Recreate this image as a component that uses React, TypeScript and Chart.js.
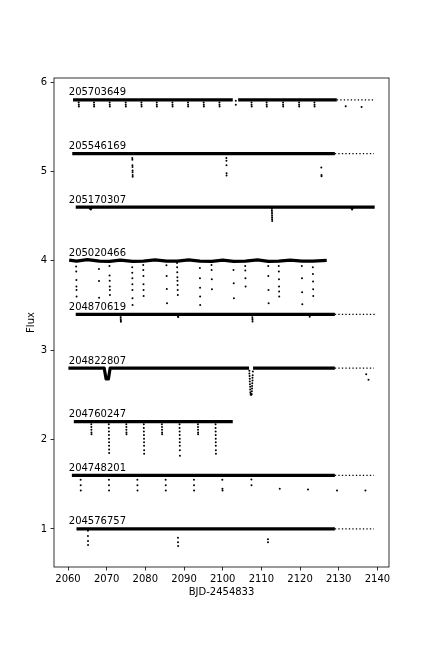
import React, { useEffect, useRef } from "react";
import { Chart, registerables } from "chart.js";
Chart.register(...registerables);

type P = [number, number];

const STAR_IDS = ["205703649", "205546169", "205170307", "205020466", "204870619", "204822807", "204760247", "204748201", "204576757"];
const BASELINE = [5.8, 5.2, 4.6, 4.0, 3.4, 2.8, 2.2, 1.6, 1.0];
const LABEL_T = 2060.2;
const X_TICKS = [2060, 2070, 2080, 2090, 2100, 2110, 2120, 2130, 2140];
const Y_TICKS = [1, 2, 3, 4, 5, 6];
const X_MIN = 2056.38, X_MAX = 2143.0, Y_MIN = 0.574, Y_MAX = 6.045;

// ---- 205703649 ----
const dense_205703649: P[][] = [[[2061.3, 5.8], [2102.6, 5.8]], [[2104.0, 5.8], [2129.5, 5.8]]];
const sparse_205703649: P[][] = [[[2129.5, 5.8], [2139.1, 5.8]]];
const dips_205703649: P[] = [
  [2062.77, 5.77], [2062.79, 5.745], [2062.81, 5.725],
  [2066.72, 5.77], [2066.74, 5.745], [2066.76, 5.725],
  [2070.78, 5.77], [2070.80, 5.745], [2070.82, 5.725],
  [2074.92, 5.77], [2074.94, 5.745], [2074.96, 5.725],
  [2078.98, 5.77], [2079.00, 5.745], [2079.02, 5.725],
  [2082.94, 5.77], [2082.96, 5.745], [2082.98, 5.725],
  [2087.00, 5.77], [2087.02, 5.745], [2087.04, 5.725],
  [2091.03, 5.77], [2091.05, 5.745], [2091.07, 5.725],
  [2095.09, 5.77], [2095.11, 5.745], [2095.13, 5.725],
  [2099.15, 5.77], [2099.17, 5.745], [2099.19, 5.725],
  [2103.37, 5.79], [2103.39, 5.745],
  [2107.45, 5.77], [2107.47, 5.745], [2107.49, 5.725],
  [2111.36, 5.77], [2111.38, 5.745], [2111.40, 5.725],
  [2115.60, 5.77], [2115.62, 5.745], [2115.64, 5.725],
  [2119.74, 5.77], [2119.76, 5.745], [2119.78, 5.725],
  [2123.72, 5.77], [2123.74, 5.745], [2123.76, 5.725],
  [2131.8, 5.73], [2135.9, 5.72],
];

// ---- 205546169 ----
const dense_205546169: P[][] = [[[2061.1, 5.2], [2129.0, 5.2]]];
const sparse_205546169: P[][] = [[[2129.0, 5.2], [2139.1, 5.2]]];
const dips_205546169: P[] = [
  [2076.62, 5.15], [2076.64, 5.13], [2076.66, 5.07], [2076.68, 5.05], [2076.70, 5.01], [2076.70, 4.99], [2076.72, 4.96], [2076.72, 4.94],
  [2100.94, 5.15], [2100.96, 5.12], [2100.98, 5.07], [2101.00, 4.98], [2101.00, 4.955],
  [2125.50, 5.045], [2125.55, 4.96], [2125.55, 4.945],
];

// ---- 205170307 ----
const dense_205170307: P[][] = [[[2062.0, 4.6], [2139.3, 4.6]]];
const sparse_205170307: P[][] = [];
const dips_205170307: P[] = [
  [2065.60, 4.588], [2065.75, 4.578], [2065.90, 4.575], [2066.05, 4.585],
  [2112.70, 4.585], [2112.72, 4.565], [2112.74, 4.545], [2112.75, 4.525], [2112.76, 4.505], [2112.77, 4.485], [2112.78, 4.465], [2112.80, 4.445],
  [2133.30, 4.585], [2133.45, 4.575], [2133.60, 4.585],
];

// ---- 205020466 ----
const dense_205020466: P[][] = [[
  [2060.3, 4.008], [2062.2, 3.997], [2065.0, 4.012], [2068.1, 3.997], [2070.8, 3.993], [2073.5, 4.008],
  [2076.7, 3.993], [2079.5, 3.997], [2082.5, 4.01], [2085.5, 3.997], [2088.3, 3.997], [2091.2, 4.01],
  [2094.1, 3.997], [2097.2, 3.993], [2100.0, 4.008], [2102.8, 3.993], [2105.9, 3.997], [2109.0, 4.01],
  [2111.8, 3.993], [2114.5, 3.997], [2117.5, 4.008], [2120.5, 3.997], [2123.3, 3.997], [2126.9, 4.004],
]];
const sparse_205020466: P[][] = [];
const dips_205020466: P[] = [
  [2062.10, 3.935], [2062.13, 3.879], [2062.16, 3.786], [2062.18, 3.711], [2062.20, 3.674], [2062.22, 3.599],
  [2068.00, 3.909], [2068.02, 3.774], [2068.04, 3.587],
  [2070.72, 3.942], [2070.75, 3.834], [2070.78, 3.778], [2070.80, 3.711], [2070.82, 3.674], [2070.85, 3.618],
  [2076.60, 3.928], [2076.62, 3.867], [2076.64, 3.805], [2076.65, 3.737], [2076.66, 3.674], [2076.68, 3.581], [2076.70, 3.506],
  [2079.45, 3.954], [2079.48, 3.898], [2079.50, 3.831], [2079.52, 3.737], [2079.54, 3.674], [2079.56, 3.606],
  [2085.45, 3.950], [2085.50, 3.830], [2085.55, 3.685], [2085.60, 3.525],
  [2088.20, 3.976], [2088.22, 3.928], [2088.25, 3.872], [2088.28, 3.816], [2088.30, 3.778], [2088.33, 3.730], [2088.36, 3.674], [2088.40, 3.616],
  [2094.10, 3.920], [2094.12, 3.805], [2094.14, 3.699], [2094.16, 3.599], [2094.18, 3.506],
  [2097.10, 3.954], [2097.14, 3.898], [2097.18, 3.793], [2097.22, 3.681],
  [2102.80, 3.898], [2102.85, 3.749], [2102.90, 3.581],
  [2105.82, 3.942], [2105.85, 3.890], [2105.88, 3.805], [2105.92, 3.711],
  [2111.78, 3.942], [2111.80, 3.830], [2111.84, 3.674], [2111.87, 3.525],
  [2114.50, 3.942], [2114.52, 3.879], [2114.55, 3.793], [2114.57, 3.711], [2114.59, 3.655], [2114.61, 3.599],
  [2120.46, 3.942], [2120.50, 3.805], [2120.54, 3.648], [2120.58, 3.513],
  [2123.30, 3.928], [2123.33, 3.853], [2123.36, 3.767], [2123.39, 3.681], [2123.42, 3.606],
];

// ---- 204870619 ----
const dense_204870619: P[][] = [[[2062.0, 3.4], [2129.0, 3.4]]];
const sparse_204870619: P[][] = [[[2129.0, 3.4], [2139.3, 3.4]]];
const dips_204870619: P[] = [
  [2073.60, 3.385], [2073.62, 3.365], [2073.64, 3.345], [2073.66, 3.33], [2073.68, 3.318],
  [2088.40, 3.39], [2088.45, 3.378], [2088.50, 3.37],
  [2107.65, 3.385], [2107.68, 3.36], [2107.70, 3.34], [2107.72, 3.32],
  [2122.45, 3.39], [2122.50, 3.375],
];

// ---- 204822807 ----
const dense_204822807: P[][] = [
  [[2060.1, 2.8], [2069.35, 2.8], [2069.85, 2.678], [2070.45, 2.678], [2070.9, 2.8], [2106.8, 2.8]],
  [[2107.85, 2.8], [2129.0, 2.8]],
];
const sparse_204822807: P[][] = [[[2129.0, 2.8], [2139.1, 2.8]]];
const dips_204822807: P[] = [
  [2106.90, 2.77], [2106.90, 2.74], [2106.95, 2.71], [2107.00, 2.68], [2107.00, 2.65], [2107.05, 2.62],
  [2107.10, 2.59], [2107.10, 2.56], [2107.15, 2.53], [2107.20, 2.51], [2107.30, 2.50], [2107.40, 2.50],
  [2107.50, 2.51], [2107.55, 2.54], [2107.60, 2.57], [2107.60, 2.60], [2107.65, 2.63], [2107.70, 2.66],
  [2107.70, 2.69], [2107.75, 2.72], [2107.80, 2.76],
  [2137.1, 2.73], [2137.7, 2.67],
];

// ---- 204760247 ----
const dense_204760247: P[][] = [[[2061.5, 2.2], [2102.6, 2.2]]];
const sparse_204760247: P[][] = [];
const dips_204760247: P[] = [
  [2066.02, 2.17], [2066.04, 2.14], [2066.05, 2.11], [2066.06, 2.08], [2066.08, 2.06],
  [2070.55, 2.17], [2070.56, 2.13], [2070.58, 2.09], [2070.59, 2.05], [2070.60, 2.01], [2070.61, 1.97], [2070.62, 1.93], [2070.63, 1.89], [2070.64, 1.85],
  [2075.08, 2.17], [2075.09, 2.14], [2075.10, 2.11], [2075.11, 2.08], [2075.12, 2.06],
  [2079.60, 2.17], [2079.61, 2.13], [2079.62, 2.09], [2079.64, 2.05], [2079.65, 2.01], [2079.66, 1.97], [2079.67, 1.93], [2079.68, 1.88], [2079.69, 1.84],
  [2084.28, 2.17], [2084.30, 2.14], [2084.31, 2.11], [2084.32, 2.08], [2084.34, 2.06],
  [2088.84, 2.17], [2088.85, 2.13], [2088.87, 2.09], [2088.88, 2.05], [2088.89, 2.01], [2088.90, 1.97], [2088.91, 1.93], [2088.92, 1.88], [2088.94, 1.82],
  [2093.60, 2.17], [2093.61, 2.14], [2093.62, 2.11], [2093.63, 2.08], [2093.64, 2.06],
  [2098.15, 2.17], [2098.16, 2.13], [2098.18, 2.09], [2098.19, 2.05], [2098.20, 2.01], [2098.21, 1.97], [2098.22, 1.93], [2098.23, 1.88], [2098.25, 1.84],
];

// ---- 204748201 ----
const dense_204748201: P[][] = [[[2061.0, 1.6], [2129.0, 1.6]]];
const sparse_204748201: P[][] = [[[2129.0, 1.6], [2139.1, 1.6]]];
const dips_204748201: P[] = [
  [2063.26, 1.55], [2063.28, 1.49], [2063.30, 1.43],
  [2070.58, 1.55], [2070.60, 1.49], [2070.62, 1.43],
  [2077.93, 1.55], [2077.95, 1.49], [2077.97, 1.43],
  [2085.25, 1.55], [2085.27, 1.49], [2085.29, 1.43],
  [2092.56, 1.55], [2092.58, 1.49], [2092.60, 1.43],
  [2099.90, 1.55], [2099.93, 1.45], [2099.96, 1.43],
  [2107.42, 1.553], [2107.44, 1.49],
  [2114.75, 1.45],
  [2122.06, 1.44],
  [2129.56, 1.43],
  [2136.91, 1.43],
];

// ---- 204576757 ----
const dense_204576757: P[][] = [[[2062.2, 1.0], [2129.0, 1.0]]];
const sparse_204576757: P[][] = [[[2129.0, 1.0], [2139.1, 1.0]]];
const dips_204576757: P[] = [
  [2065.15, 0.98], [2065.16, 0.92], [2065.17, 0.865], [2065.18, 0.82],
  [2088.43, 0.90], [2088.45, 0.85], [2088.47, 0.81],
  [2111.70, 0.885], [2111.72, 0.85],
];

const DENSE = [dense_205703649, dense_205546169, dense_205170307, dense_205020466, dense_204870619, dense_204822807, dense_204760247, dense_204748201, dense_204576757];
const SPARSE = [sparse_205703649, sparse_205546169, sparse_205170307, sparse_205020466, sparse_204870619, sparse_204822807, sparse_204760247, sparse_204748201, sparse_204576757];
const DIPS = [dips_205703649, dips_205546169, dips_205170307, dips_205020466, dips_204870619, dips_204822807, dips_204760247, dips_204748201, dips_204576757];

const FONT = "'DejaVu Sans', sans-serif";

export default function App() {
  const ref = useRef<HTMLCanvasElement | null>(null);
  useEffect(() => {
    const canvas = ref.current;
    if (!canvas) return;
    const toXY = (pts: P[]) => pts.map(([x, y]) => ({ x, y }));
    const datasets: any[] = [];
    for (let i = 0; i < STAR_IDS.length; i++) {
      for (const seg of DENSE[i]) {
        datasets.push({
          data: toXY(seg), showLine: true, borderColor: "#000", borderWidth: 3.2,
          pointRadius: 0, borderCapStyle: "butt", borderJoinStyle: "round", tension: 0,
        });
      }
      for (const seg of SPARSE[i]) {
        datasets.push({
          data: toXY(seg), showLine: true, borderColor: "#000", borderWidth: 1.3,
          borderDash: [1.3, 2.2], pointRadius: 0, tension: 0,
        });
      }
      datasets.push({
        data: toXY(DIPS[i]), showLine: false, pointRadius: 1.0, pointBorderWidth: 0,
        pointBackgroundColor: "#000", pointBorderColor: "#000",
      });
    }

    const decor = {
      id: "decor",
      afterDatasetsDraw(chart: any) {
        const { ctx, chartArea, scales } = chart;
        ctx.save();
        ctx.strokeStyle = "#000";
        ctx.lineWidth = 0.8;
        ctx.strokeRect(chartArea.left, chartArea.top, chartArea.right - chartArea.left, chartArea.bottom - chartArea.top);
        ctx.fillStyle = "#000";
        ctx.font = `10px ${FONT}`;
        ctx.textAlign = "left";
        ctx.textBaseline = "alphabetic";
        for (let i = 0; i < STAR_IDS.length; i++) {
          ctx.fillText(STAR_IDS[i], scales.x.getPixelForValue(LABEL_T), scales.y.getPixelForValue(BASELINE[i] + 0.05));
        }
        ctx.textAlign = "center";
        ctx.textBaseline = "middle";
        ctx.fillText("BJD-2454833", (chartArea.left + chartArea.right) / 2, 592);
        ctx.translate(31, (chartArea.top + chartArea.bottom) / 2);
        ctx.rotate(-Math.PI / 2);
        ctx.fillText("Flux", 0, 0);
        ctx.restore();
      },
    };

    const chart = new Chart(canvas, {
      type: "scatter",
      data: { datasets },
      plugins: [decor],
      options: {
        animation: false,
        responsive: false,
        events: [],
        layout: { padding: { top: 78, right: 43, left: 0, bottom: 0 } },
        plugins: { legend: { display: false }, tooltip: { enabled: false } },
        scales: {
          x: {
            type: "linear", min: X_MIN, max: X_MAX,
            afterBuildTicks: (s: any) => { s.ticks = X_TICKS.map((v) => ({ value: v })); },
            afterFit: (s: any) => { s.height = 81; },
            grid: { drawOnChartArea: false, drawTicks: true, tickLength: 3.5, tickColor: "#000", lineWidth: 0.8 },
            border: { display: false },
            ticks: { color: "#000", font: { family: FONT, size: 10 }, padding: 3, maxRotation: 0, autoSkip: false, callback: (v: any) => String(v) },
          },
          y: {
            type: "linear", min: Y_MIN, max: Y_MAX,
            afterBuildTicks: (s: any) => { s.ticks = Y_TICKS.map((v) => ({ value: v })); },
            afterFit: (s: any) => { s.width = 54; },
            grid: { drawOnChartArea: false, drawTicks: true, tickLength: 3.5, tickColor: "#000", lineWidth: 0.8 },
            border: { display: false },
            ticks: { color: "#000", font: { family: FONT, size: 10 }, padding: 3.5, autoSkip: false, callback: (v: any) => String(v) },
          },
        },
      },
    });
    return () => chart.destroy();
  }, []);

  return (
    <div style={{ position: "fixed", left: 0, top: 0, width: 432, height: 648, background: "#fff" }}>
      <canvas ref={ref} width={432} height={648} style={{ width: 432, height: 648, display: "block" }} />
    </div>
  );
}
